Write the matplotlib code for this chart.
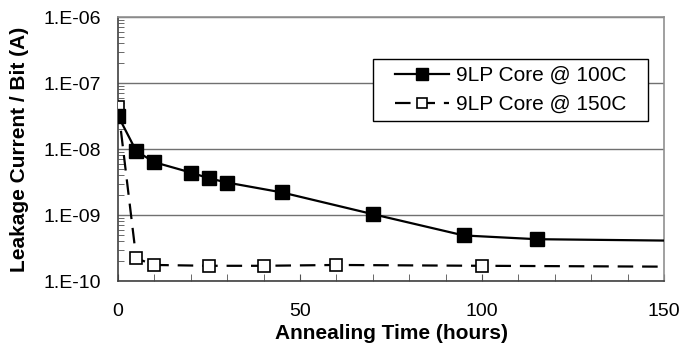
import matplotlib
matplotlib.use("Agg")
import matplotlib.pyplot as plt
from matplotlib.patches import Rectangle
from matplotlib.ticker import FixedLocator, FuncFormatter, LogLocator, MultipleLocator, NullFormatter
import numpy as np

plt.rcParams['font.family'] = ['Liberation Sans', 'DejaVu Sans']

# Data
t100 = [0, 5, 10, 20, 25, 30, 45, 70, 95, 115, 150]
i100 = [3.2e-8, 9.3e-9, 6.3e-9, 4.4e-9, 3.6e-9, 3.1e-9, 2.2e-9, 1.03e-9, 4.9e-10, 4.3e-10, 4.1e-10]
t150 = [0, 5, 10, 25, 40, 60, 100, 150]
i150 = [4.4e-8, 2.2e-10, 1.75e-10, 1.7e-10, 1.7e-10, 1.75e-10, 1.7e-10, 1.65e-10]
label100 = "9LP Core @ 100C"
label150 = "9LP Core @ 150C"
xticklabels = ["0", "50", "100", "150"]

fig = plt.figure(figsize=(6.83, 3.45), dpi=100)
ax = fig.add_axes([0.1728, 0.1855, 0.7994, 0.7652])

ax.plot(t100, i100, color='black', lw=1.6, marker='s', ms=9.5,
        markerfacecolor='black', markeredgecolor='black',
        markevery=list(range(len(t100) - 1)), label=label100, zorder=4)
ax.plot(t150, i150, color='black', lw=1.6, ls=(0, (7, 4)), marker='s', ms=8.5,
        markerfacecolor='white', markeredgecolor='black', markeredgewidth=1.2,
        markevery=list(range(len(t150) - 1)), label=label150, zorder=3)

ax.set_yscale('log')
ax.set_ylim(1e-10, 1e-6)
ax.set_xlim(0, 150)

ax.yaxis.set_major_locator(FixedLocator([1e-10, 1e-9, 1e-8, 1e-7, 1e-6]))
ax.yaxis.set_major_formatter(FuncFormatter(lambda v, p: "1.E%03d" % int(round(np.log10(v)))))
ax.yaxis.set_minor_locator(LogLocator(base=10, subs=np.arange(2, 10)))
ax.yaxis.set_minor_formatter(NullFormatter())

ax.xaxis.set_major_locator(FixedLocator([0, 50, 100, 150]))
ax.set_xticklabels(xticklabels)
ax.xaxis.set_minor_locator(MultipleLocator(10))

ax.grid(True, which='major', axis='y', color='#707070', lw=1.0)
ax.set_axisbelow(True)

for side, s in ax.spines.items():
    s.set_color('#404040' if side in ('left', 'bottom') else '#909090')
    s.set_linewidth(1.2)

ax.tick_params(axis='y', which='major', direction='in', length=0, labelsize=14, pad=12)
ax.tick_params(axis='y', which='minor', direction='in', length=4, color='#505050')
ax.tick_params(axis='x', which='major', direction='in', length=5, labelsize=14, pad=16, color='#505050')
ax.tick_params(axis='x', which='minor', direction='in', length=5, color='#505050')

ax.set_xlabel("Annealing Time (hours)", fontsize=15, fontweight='bold', labelpad=3)
ax.set_ylabel("Leakage Current / Bit (A)", fontsize=15, fontweight='bold', labelpad=11)

# legend frame
frame = Rectangle((0.467, 0.606), 0.504, 0.235, transform=ax.transAxes,
                  facecolor='white', edgecolor='black', lw=1.0, zorder=5)
ax.add_patch(frame)
leg = ax.legend(loc='center', bbox_to_anchor=(0.719, 0.7235), fontsize=15,
                frameon=False, handlelength=2.6, borderpad=0, labelspacing=0.5,
                handletextpad=0.35, borderaxespad=0, markerscale=0.9)
leg.set_zorder(6)

fig.savefig("out.png", dpi=100)
